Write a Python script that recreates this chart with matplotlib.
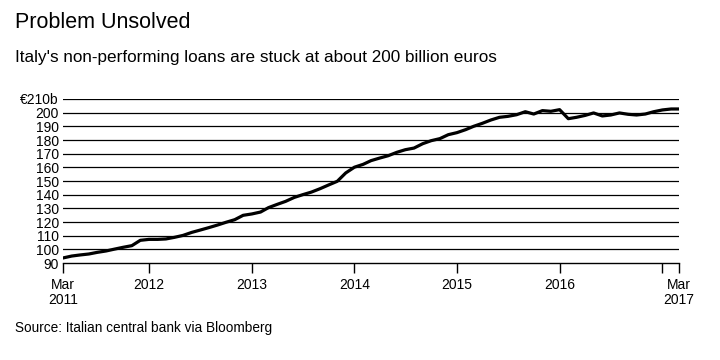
import pandas as pd
import matplotlib.pyplot as plt

plt.rcParams['font.family'] = ['Liberation Sans', 'DejaVu Sans']

# monthly NPL stock, billions of euros, Mar 2011 - Mar 2017
months = pd.date_range('2011-03-01', '2017-03-01', freq='MS')
npl = [93.7, 95.1, 95.9, 96.6, 97.8, 98.8, 100.2, 101.5, 102.7, 106.6,
       107.3, 107.3, 107.6, 108.8, 110.2, 112.4, 114.1, 115.9, 117.8, 119.8,
       121.7, 124.9, 125.9, 127.3, 130.5, 132.9, 135.1, 138.0, 140.0, 141.9,
       144.4, 147.1, 149.8, 155.9, 160.1, 162.2, 164.9, 166.8, 168.5, 171.0,
       172.9, 174.1, 177.3, 179.5, 181.0, 183.9, 185.4, 187.6, 190.0, 192.2,
       194.6, 196.6, 197.3, 198.5, 200.7, 199.0, 201.5, 201.0, 202.2, 195.6,
       196.6, 198.0, 199.8, 197.6, 198.3, 199.8, 198.8, 198.3, 199.0, 200.7,
       202.0, 202.7, 202.7]

yticks = list(range(90, 211, 10))
ytick_labels = [str(v) for v in yticks[:-1]] + ['€210b']
xtick_dates = pd.to_datetime(['2011-03-01', '2012-01-01', '2013-01-01', '2014-01-01',
                              '2015-01-01', '2016-01-01', '2017-01-01', '2017-03-01'])
xtick_labels = ['Mar\n2011', '2012', '2013', '2014', '2015', '2016', '', 'Mar\n2017']

fig = plt.figure(figsize=(7.2, 3.6), dpi=100)
ax = fig.add_axes([0.0875, 0.2694, 0.8556, 0.4556])

for v in yticks[1:]:
    ax.axhline(v, color='black', lw=0.9, zorder=1)
ax.plot(months, npl, color='black', lw=2.3, solid_joinstyle='round', zorder=3)

ax.set_xlim(months[0], months[-1])
ax.set_ylim(90, 210)
ax.set_yticks(yticks)
ax.set_yticklabels(ytick_labels)
ax.set_xticks(xtick_dates)
ax.set_xticklabels(xtick_labels, linespacing=1.1)

for s in ['top', 'right', 'left']:
    ax.spines[s].set_visible(False)
ax.spines['bottom'].set_linewidth(1.0)
ax.tick_params(axis='y', length=0, pad=3, labelsize=10)
ax.tick_params(axis='x', length=7, width=1.0, pad=4, labelsize=10)

fig.text(0.021, 0.922, 'Problem Unsolved', fontsize=15.5, va='baseline')
fig.text(0.021, 0.828, "Italy's non-performing loans are stuck at about 200 billion euros",
         fontsize=12.3, va='baseline')
fig.text(0.021, 0.077, 'Source: Italian central bank via Bloomberg', fontsize=9.8, va='baseline')

fig.savefig('out.png', dpi=100)
